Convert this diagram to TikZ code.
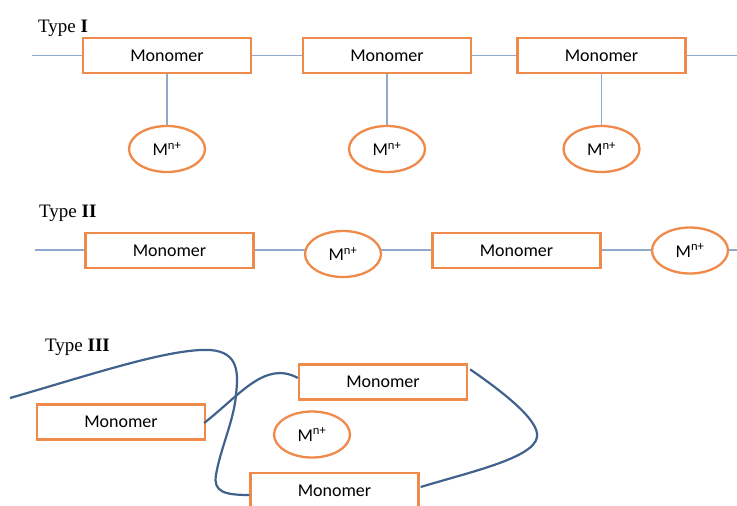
\documentclass[tikz,border=0pt]{standalone}
\usepackage{fontspec}
\setmainfont{Liberation Serif}
\newfontfamily\carl{Carlito}
\usetikzlibrary{shapes.geometric,backgrounds,calc}
\definecolor{orng}{RGB}{240,138,75}
\definecolor{chain}{RGB}{143,170,204}
\definecolor{curv}{RGB}{64,98,140}
\tikzset{
  mono/.style={draw=orng, line width=2.3pt, fill=white, minimum width=168pt, minimum height=35pt, inner sep=0pt, font=\carl\fontsize{18}{21}\selectfont},
  ion/.style={ellipse, draw=orng, line width=2.3pt, fill=white, minimum width=76pt, minimum height=46pt, inner sep=0pt, font=\carl\fontsize{18}{21}\selectfont},
  link/.style={draw=chain, line width=1.1pt},
  strand/.style={draw=curv, line width=2.2pt},
  typelab/.style={anchor=base west, inner sep=0pt, font=\fontsize{19}{22}\selectfont}
}
\begin{document}
\begin{tikzpicture}[x=1pt,y=-1pt]
\useasboundingbox (0,0) rectangle (737,506);
% Type I
\node[typelab] (t1) at (38,32) {Type \textbf{I}};
\node[mono] (a1) at (167,55.5) {Monomer};
\node[mono] (a2) at (387,55.5) {Monomer};
\node[mono] (a3) at (601.5,55.5) {Monomer};
\node[ion] (i1) at (167,149) {M\textsuperscript{n+}};
\node[ion] (i2) at (387,149) {M\textsuperscript{n+}};
\node[ion] (i3) at (601.5,149) {M\textsuperscript{n+}};
\coordinate (l1) at (32,55.5);
\coordinate (r1) at (737,55.5);
% Type II
\node[typelab] (t2) at (39,217) {Type \textbf{II}};
\node[mono] (b1) at (169.5,250.5) {Monomer};
\node[ion] (j1) at (343,254) {M\textsuperscript{n+}};
\node[mono] (b2) at (516.5,250.5) {Monomer};
\node[ion] (j2) at (690,250.5) {M\textsuperscript{n+}};
\coordinate (l2) at (35,250);
\coordinate (r2) at (737,250);
% Type III
\node[typelab] (t3) at (45,351) {Type \textbf{III}};
\node[mono] (cA) at (121,422) {Monomer};
\node[mono] (cB) at (383,382) {Monomer};
\node[ion] (k1) at (312,434.5) {M\textsuperscript{n+}};
\node[mono] (cC) at (334.5,490.5) {Monomer};
\coordinate (s3) at (10,398);
\begin{scope}[on background layer]
  \draw[link] (l1) -- (a1.west);
  \draw[link] (a1.east) -- (a2.west);
  \draw[link] (a2.east) -- (a3.west);
  \draw[link] (a3.east) -- (r1);
  \draw[link] (a1.south) -- (i1.north);
  \draw[link] (a2.south) -- (i2.north);
  \draw[link] (a3.south) -- (i3.north);
  \draw[link] (l2) -- (l2 -| b1.west);
  \draw[link] (b1.east |- l2) -- (j1.center |- l2);
  \draw[link] (j1.center |- l2) -- (b2.west |- l2);
  \draw[link] (b2.east |- l2) -- (j2.center |- l2);
  \draw[link] (j2.center |- l2) -- (r2);
\end{scope}
\draw[strand] (s3) .. controls (90,375) and (170,348) .. (210,350)
  .. controls (240,352) and (238,375) .. (236,395)
  .. controls (234,420) and (220,450) .. (216,475)
  .. controls (213,492) and (225,495) .. ($(cC.west)+(0,4.5)$);
\draw[strand] ($(cA.east)+(-2,1)$) .. controls (240,395) and (265,360) .. ($(cB.west)+(0,-4)$);
\draw[strand] ($(cB.north east)+(2,6)$) .. controls (500,390) and (540,420) .. (537,437)
  .. controls (534,458) and (470,472) .. ($(cC.east)+(1,-3.5)$);
\end{tikzpicture}
\end{document}
